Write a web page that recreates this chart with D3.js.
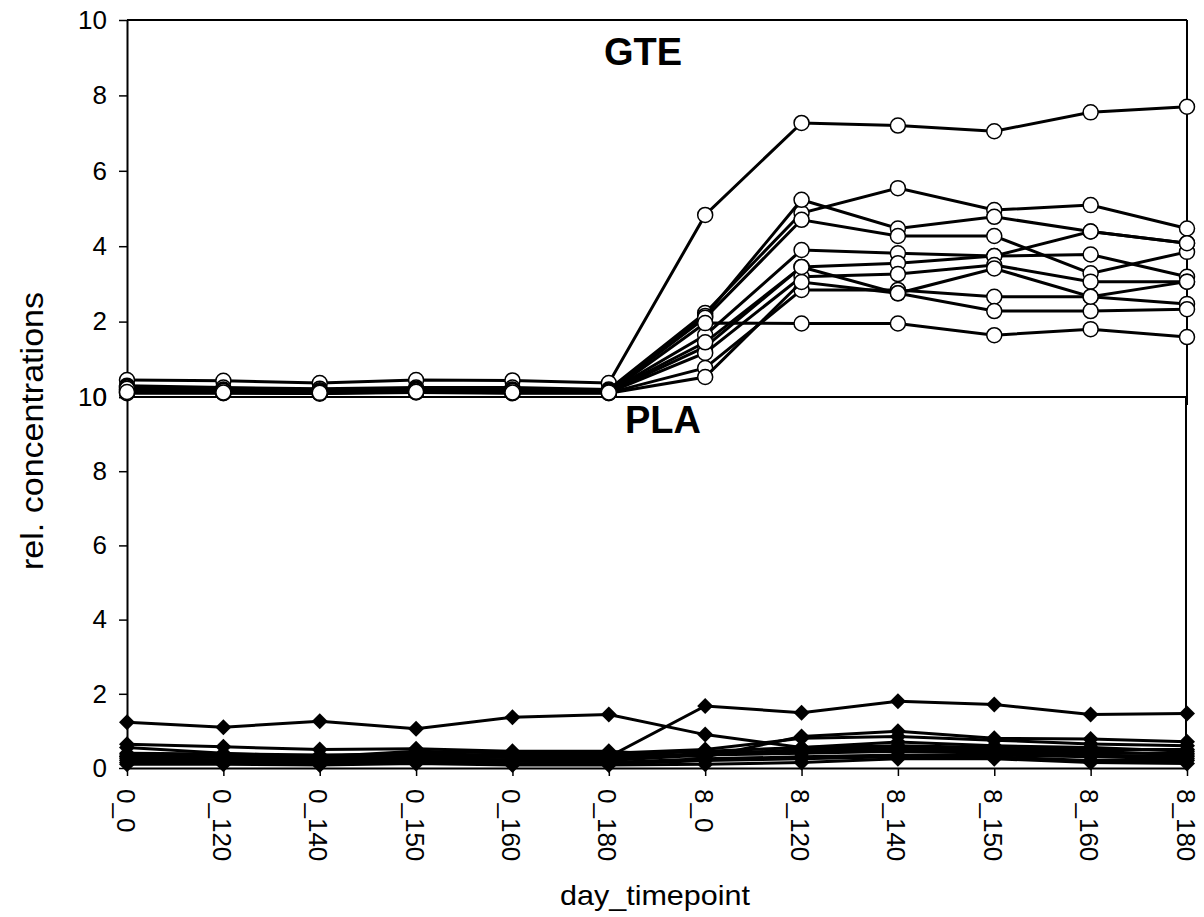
<!DOCTYPE html>
<html>
<head>
<meta charset="utf-8">
<script src="https://cdn.jsdelivr.net/npm/d3@7"></script>
<style>
  body { margin: 0; background: #fff; }
  text { font-family: "Liberation Sans", Arial, sans-serif; }
</style>
</head>
<body>
<div id="chart"></div>
<script>
// categories on the x axis
const timepoints = ["0_0", "0_120", "0_140", "0_150", "0_160", "0_180",
                    "8_0", "8_120", "8_140", "8_150", "8_160", "8_180"];
const yTicks = [0, 2, 4, 6, 8, 10];

// GTE group (open circles)
const gteSeries = [
  [0.45, 0.43, 0.37, 0.45, 0.44, 0.37, 4.83, 7.27, 7.20, 7.05, 7.55, 7.70],
  [0.30, 0.25, 0.22, 0.25, 0.25, 0.20, 2.23, 4.88, 5.54, 4.96, 5.09, 4.47],
  [0.27, 0.20, 0.18, 0.22, 0.20, 0.17, 2.15, 5.23, 4.47, 4.78, 4.39, 4.08],
  [0.25, 0.18, 0.15, 0.20, 0.18, 0.15, 2.10, 4.70, 4.27, 4.27, 3.28, 3.85],
  [0.20, 0.15, 0.12, 0.18, 0.15, 0.14, 1.64, 3.90, 3.81, 3.74, 4.39, 4.08],
  [0.18, 0.14, 0.12, 0.16, 0.14, 0.13, 1.33, 3.45, 3.55, 3.74, 3.78, 3.19],
  [0.15, 0.12, 0.10, 0.15, 0.12, 0.12, 1.17, 3.19, 3.26, 3.50, 3.06, 3.06],
  [0.12, 0.11, 0.10, 0.13, 0.11, 0.11, 0.77, 2.84, 2.84, 2.66, 2.66, 2.47],
  [0.10, 0.10, 0.09, 0.12, 0.10, 0.10, 0.53, 3.05, 2.75, 2.28, 2.28, 2.33],
  [0.22, 0.16, 0.14, 0.17, 0.16, 0.14, 1.45, 3.45, 2.75, 3.41, 2.66, 3.06],
  [0.13, 0.12, 0.11, 0.14, 0.12, 0.12, 1.96, 1.95, 1.95, 1.64, 1.80, 1.59]
];

// PLA group (filled diamonds)
const plaSeries = [
  [1.23, 1.10, 1.26, 1.06, 1.37, 1.44, 0.90, 0.55, 0.60, 0.55, 0.50, 0.50],
  [0.30, 0.30, 0.25, 0.30, 0.30, 0.30, 1.67, 1.49, 1.80, 1.71, 1.44, 1.47],
  [0.64, 0.57, 0.50, 0.52, 0.45, 0.45, 0.30, 0.85, 0.99, 0.80, 0.78, 0.71],
  [0.55, 0.40, 0.30, 0.45, 0.40, 0.40, 0.50, 0.80, 0.85, 0.75, 0.65, 0.60],
  [0.40, 0.38, 0.35, 0.38, 0.35, 0.35, 0.45, 0.55, 0.70, 0.60, 0.55, 0.45],
  [0.35, 0.33, 0.30, 0.35, 0.32, 0.30, 0.35, 0.50, 0.55, 0.50, 0.45, 0.35],
  [0.30, 0.28, 0.28, 0.30, 0.28, 0.25, 0.40, 0.45, 0.50, 0.45, 0.40, 0.40],
  [0.25, 0.22, 0.20, 0.25, 0.22, 0.20, 0.35, 0.40, 0.45, 0.40, 0.35, 0.30],
  [0.20, 0.18, 0.15, 0.20, 0.18, 0.15, 0.25, 0.30, 0.35, 0.35, 0.30, 0.25],
  [0.15, 0.15, 0.10, 0.15, 0.12, 0.10, 0.20, 0.25, 0.30, 0.30, 0.20, 0.20],
  [0.10, 0.10, 0.08, 0.12, 0.08, 0.08, 0.10, 0.15, 0.25, 0.25, 0.15, 0.12]
];

const W = 1204, H = 917;
const left = 127, right = 1187;
const topY = 20, midY = 397, botY = 768;

const svg = d3.select("#chart").append("svg")
  .attr("width", W).attr("height", H);

const x = d3.scalePoint().domain(timepoints).range([left, right]);
const yTop = d3.scaleLinear().domain([0, 10]).range([midY, topY]);
const yBot = d3.scaleLinear().domain([0, 10]).range([botY, midY]);

// frame lines
const frame = svg.append("g").attr("stroke", "#000").attr("stroke-width", 2);
frame.append("line").attr("x1", left).attr("x2", right).attr("y1", topY).attr("y2", topY);
frame.append("line").attr("x1", right).attr("x2", right).attr("y1", topY).attr("y2", midY + 8);
frame.append("line").attr("x1", left).attr("x2", right).attr("y1", midY).attr("y2", midY);
frame.append("line").attr("x1", right - 1).attr("x2", right - 1).attr("y1", midY).attr("y2", botY);

// y axes
function yAxis(scale) {
  const g = svg.append("g").attr("transform", `translate(${left},0)`)
    .call(d3.axisLeft(scale).tickValues(yTicks).tickSize(8).tickSizeOuter(0).tickPadding(12));
  g.select(".domain").attr("stroke-width", 2);
  g.selectAll(".tick line").attr("stroke-width", 1.5);
  g.selectAll(".tick text").attr("fill", "#000")
    .style("font-size", "26px")
    .style("font-family", "Liberation Sans, Arial, sans-serif");
}
yAxis(yTop);
yAxis(yBot);

// x axis at the bottom
const xg = svg.append("g").attr("transform", `translate(0,${botY})`)
  .call(d3.axisBottom(x).tickSize(8).tickSizeOuter(0));
xg.select(".domain").attr("stroke-width", 2);
xg.selectAll(".tick line").attr("stroke-width", 1.5);
xg.selectAll(".tick text")
  .attr("fill", "#000")
  .style("font-size", "26px")
  .style("font-family", "Liberation Sans, Arial, sans-serif")
  .attr("text-anchor", "start")
  .attr("transform", "translate(0,21) rotate(90)")
  .attr("x", 0).attr("y", 0).attr("dy", "0.42em");

// axis titles
svg.append("text")
  .attr("x", 655).attr("y", 905)
  .attr("text-anchor", "middle")
  .attr("font-size", 28)
  .attr("textLength", 190).attr("lengthAdjust", "spacingAndGlyphs")
  .text("day_timepoint");

svg.append("text")
  .attr("transform", "translate(43,431) rotate(-90)")
  .attr("text-anchor", "middle")
  .attr("font-size", 31)
  .attr("textLength", 278).attr("lengthAdjust", "spacingAndGlyphs")
  .text("rel. concentrations");

// panel titles
svg.append("text")
  .attr("x", 643).attr("y", 65)
  .attr("text-anchor", "middle")
  .attr("font-size", 38).attr("font-weight", "bold")
  .text("GTE");

svg.append("text")
  .attr("x", 663).attr("y", 433)
  .attr("text-anchor", "middle")
  .attr("font-size", 38).attr("font-weight", "bold")
  .text("PLA");

// series
const line = yScale => d3.line()
  .x((d, i) => x(timepoints[i]))
  .y(d => yScale(d));

plaSeries.forEach(vals => {
  const g = svg.append("g");
  g.append("path")
    .attr("d", line(yBot)(vals))
    .attr("fill", "none").attr("stroke", "#000").attr("stroke-width", 3);
  g.selectAll("path.m").data(vals).join("path")
    .attr("class", "m")
    .attr("d", d3.symbol().type(d3.symbolSquare).size(128)())
    .attr("transform", (d, i) => `translate(${x(timepoints[i])},${yBot(d)}) rotate(45)`)
    .attr("fill", "#000");
});

gteSeries.forEach(vals => {
  const g = svg.append("g");
  g.append("path")
    .attr("d", line(yTop)(vals))
    .attr("fill", "none").attr("stroke", "#000").attr("stroke-width", 3);
  g.selectAll("circle").data(vals).join("circle")
    .attr("cx", (d, i) => x(timepoints[i]))
    .attr("cy", d => yTop(d))
    .attr("r", 7.5)
    .attr("fill", "#fff").attr("stroke", "#000").attr("stroke-width", 1.5);
});
</script>
</body>
</html>
